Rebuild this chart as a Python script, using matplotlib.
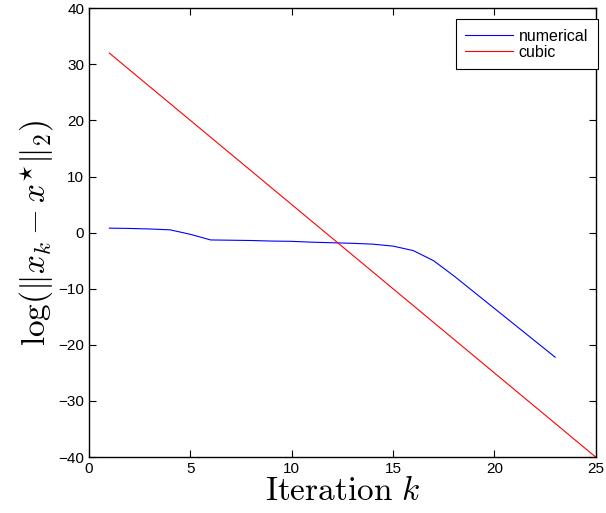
import matplotlib
matplotlib.use("Agg")
import matplotlib.pyplot as plt

plt.rcParams['font.family'] = ['Liberation Sans', 'DejaVu Sans']
plt.rcParams['mathtext.fontset'] = 'cm'

iters_num = [1, 2, 3, 4, 5, 6, 7, 8, 9, 10, 11, 12, 13, 14, 15, 16, 17, 18, 19, 20, 21, 22, 23]
numerical = [0.8, 0.75, 0.65, 0.5, -0.3, -1.3, -1.35, -1.4, -1.5, -1.55, -1.7, -1.8, -1.9, -2.05,
             -2.4, -3.2, -5.0, -7.7, -10.6, -13.5, -16.4, -19.3, -22.2]
iters_cub = [1, 2, 3, 4, 5, 6, 7, 8, 9, 10, 11, 12, 13, 14, 15, 16, 17, 18, 19, 20, 21, 22, 23, 24, 25]
cubic = [32, 29, 26, 23, 20, 17, 14, 11, 8, 5, 2, -1, -4, -7, -10, -13, -16, -19, -22, -25,
         -28, -31, -34, -37, -40]

fig = plt.figure(figsize=(6.06, 5.13), dpi=100)
ax = fig.add_axes([0.147, 0.109, 0.836, 0.875])
ax.plot(iters_num, numerical, color='blue', lw=0.8, label='numerical')
ax.plot(iters_cub, cubic, color='red', lw=0.8, label='cubic')
ax.set_xlim(0, 25)
ax.set_ylim(-40, 40)
ax.set_xticks([0, 5, 10, 15, 20, 25])
ax.set_yticks([-40, -30, -20, -10, 0, 10, 20, 30, 40])
ax.tick_params(direction='in', top=True, right=True, labelsize=11, length=5, width=0.8)
for s in ax.spines.values():
    s.set_linewidth(1.0)
ax.set_xlabel(r'$\mathrm{Iteration}\ k$', fontsize=24, labelpad=0)
ax.set_ylabel(r'$\log(\|x_k - x^{\star}\|_2)$', fontsize=24, labelpad=2)
leg = ax.legend(loc='upper right', bbox_to_anchor=(1.004, 0.9755), fontsize=11.5,
                fancybox=False, framealpha=1, edgecolor='black', borderaxespad=0,
                handlelength=3.0, labelspacing=0.05, borderpad=0.6, handletextpad=0.35)
leg.get_frame().set_linewidth(0.8)
fig.savefig('out.png', dpi=100)
